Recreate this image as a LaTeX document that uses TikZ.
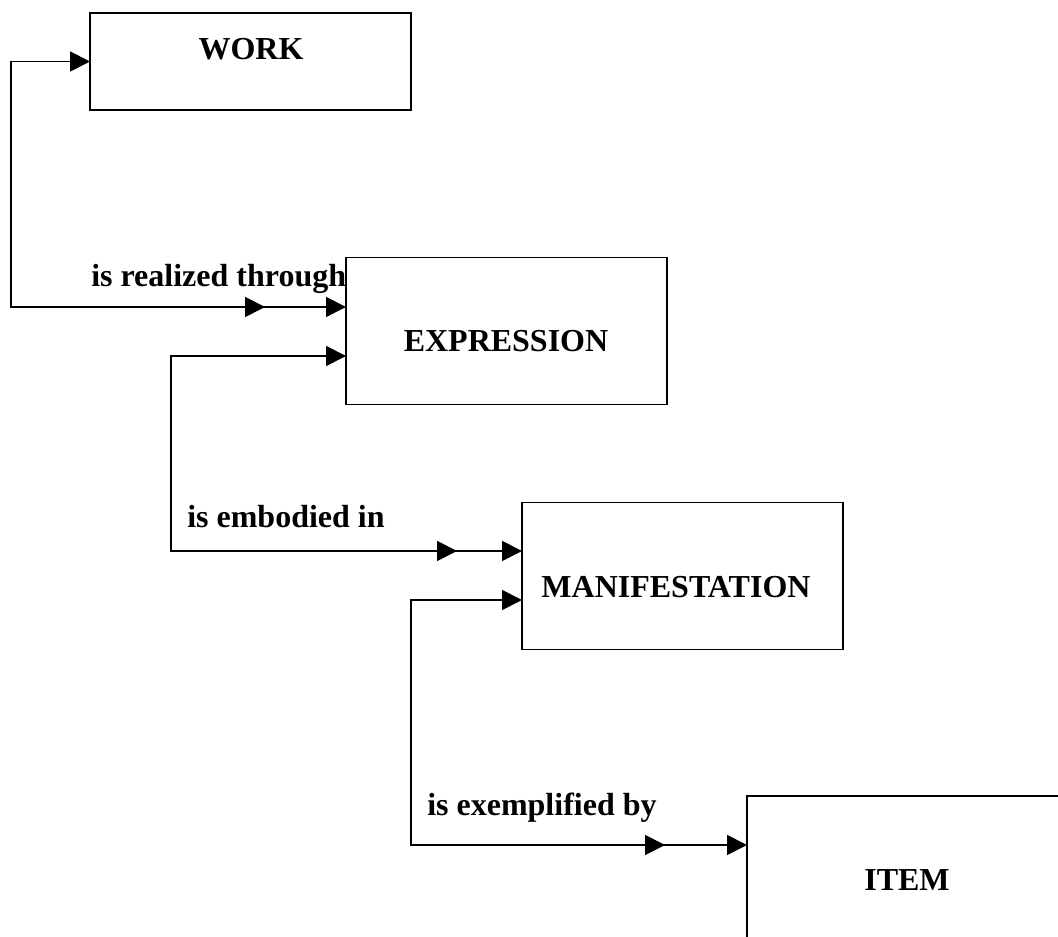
\documentclass[tikz,border=0pt]{standalone}
\usepackage{fontspec}
\setmainfont{Liberation Serif}
\usetikzlibrary{arrows.meta}
\begin{document}
\begin{tikzpicture}[x=0.75pt,y=-0.75pt,
  entity/.style={draw, line width=1.4pt, inner sep=0pt, outer sep=0pt,
    minimum width=240.75pt, minimum height=110.25pt},
  title/.style={font=\bfseries\fontsize{24}{28}\selectfont, inner sep=0pt},
  rel/.style={font=\bfseries\fontsize{24}{28}\selectfont, inner sep=0pt, anchor=base west},
  wire/.style={line width=1.4pt},
  arr/.style={wire, -{Triangle[length=15pt,width=15pt]}}]
  % canvas
  \fill[white] (0,0) rectangle (1058,937);
  \useasboundingbox (0,0) rectangle (1058,937);
  \clip (0,0) rectangle (1058,937);

  % entity boxes
  \node[entity, minimum height=72.75pt] (work) at (250.5,61.5) {};
  \node[entity] (expr) at (506.5,331) {};
  \node[entity] (mani) at (682.5,576) {};
  \node[entity] (item) at (907.5,869.5) {};

  % entity names
  \node[title] (workT) at (251,49) {WORK};
  \node[title] (exprT) at (506,341) {EXPRESSION};
  \node[title] (maniT) at (676,587) {MANIFESTATION};
  \node[title] (itemT) at (907,880) {ITEM};

  % routing points
  \coordinate (c1) at (11,307);
  \coordinate (m1) at (265,307);
  \coordinate (c2) at (171,551);
  \coordinate (s2) at (171,356);
  \coordinate (m2) at (457,551);
  \coordinate (c3) at (411,845);
  \coordinate (s3) at (411,600);
  \coordinate (m3) at (665,845);

  % work -> expression
  \draw[arr] (m1) -- (c1) |- (work.west);
  \draw[arr] (c1) -- (m1);
  \draw[arr] (m1) -- (expr.west |- m1);

  % expression -> manifestation
  \draw[arr] (m2) -- (c2) |- (expr.west |- s2);
  \draw[arr] (c2) -- (m2);
  \draw[arr] (m2) -- (mani.west |- m2);

  % manifestation -> item
  \draw[arr] (m3) -- (c3) |- (mani.west |- s3);
  \draw[arr] (c3) -- (m3);
  \draw[arr] (m3) -- (item.west |- m3);

  % relationship labels
  \node[rel] (l1) at (91,287) {is realized through};
  \node[rel] (l2) at (187,528) {is embodied in};
  \node[rel] (l3) at (427,816) {is exemplified by};
\end{tikzpicture}
\end{document}
